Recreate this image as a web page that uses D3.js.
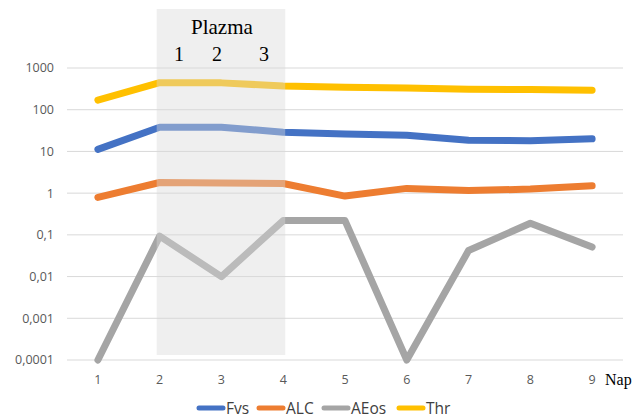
<!DOCTYPE html>
<html><head><meta charset="utf-8">
<script src="https://cdn.jsdelivr.net/npm/d3@7"></script>
<style>body{margin:0;background:#fff}</style>
</head><body>
<svg id="c" width="638" height="418"></svg>
<script>
const days = ["1","2","3","4","5","6","7","8","9"];
const yTicks = [0.0001,0.001,0.01,0.1,1,10,100,1000];
const yTickLabels = ["0,0001","0,001","0,01","0,1","1","10","100","1000"];
const fvs  = [11.2, 38, 38, 29, 26, 24.5, 18.6, 18, 20];
const alc  = [0.79, 1.8, 1.75, 1.7, 0.85, 1.3, 1.15, 1.25, 1.5];
const aeos = [0.0001, 0.093, 0.01, 0.22, 0.22, 0.0001, 0.042, 0.19, 0.051];
const thr  = [170, 445, 440, 370, 345, 330, 308, 305, 292];
const seriesNames = ["Fvs","ALC","AEos","Thr"];
const seriesColors = ["#4472c4","#ed7d31","#a5a5a5","#ffc000"];
const plasmaDays = ["2","4"];
const plasmaLabels = [["1",179],["2",217],["3",264]];

const svg = d3.select("#c");
const L = 67, R = 623, T = 68, B = 360;
const x = d3.scaleBand().domain(days).range([L, R]);
const y = d3.scaleLog().domain([0.0001, 1000]).range([B, T]);

svg.append("g").selectAll("line").data(yTicks).join("line")
  .attr("x1", L).attr("x2", R)
  .attr("y1", d => y(d)).attr("y2", d => y(d))
  .attr("stroke", "#d9d9d9").attr("stroke-width", 1);

svg.append("g").selectAll("text").data(yTicks).join("text")
  .attr("x", 54).attr("y", d => y(d)).attr("dy", "0.35em")
  .attr("text-anchor", "end")
  .attr("font-family", "Open Sans, sans-serif").attr("font-size", 12.5)
  .attr("fill", "#595959")
  .text((d,i) => yTickLabels[i]);

svg.append("g").selectAll("text").data(days).join("text")
  .attr("x", d => x(d) + x.bandwidth()/2).attr("y", 384)
  .attr("text-anchor", "middle")
  .attr("font-family", "Open Sans, sans-serif").attr("font-size", 12.5)
  .attr("fill", "#595959")
  .text(d => d);

svg.append("text").attr("x", 605).attr("y", 385)
  .attr("font-family", "Liberation Serif, serif").attr("font-size", 16)
  .attr("fill", "#000").text("Nap");

const all = [fvs, alc, aeos, thr];
const line = d3.line().x((d,i) => x(days[i]) + x.bandwidth()/2).y(d => y(d));
svg.append("g").selectAll("path").data(all).join("path")
  .attr("d", d => line(d))
  .attr("fill", "none")
  .attr("stroke", (d,i) => seriesColors[i])
  .attr("stroke-width", 7)
  .attr("stroke-linecap", "round")
  .attr("stroke-linejoin", "round");

const px1 = x(plasmaDays[0]) + x.bandwidth()/2 - 3;
const px2 = x(plasmaDays[1]) + x.bandwidth()/2 + 2;
svg.append("rect").attr("x", px1).attr("y", 9)
  .attr("width", px2 - px1).attr("height", 346)
  .attr("fill", "#d9d9d9").attr("fill-opacity", 0.42);

svg.append("text").attr("x", (px1+px2)/2 + 1).attr("y", 34)
  .attr("text-anchor", "middle")
  .attr("font-family", "Liberation Serif, serif").attr("font-size", 21)
  .attr("fill", "#000").text("Plazma");
svg.append("g").selectAll("text").data(plasmaLabels).join("text")
  .attr("x", d => d[1]).attr("y", 61)
  .attr("text-anchor", "middle")
  .attr("font-family", "Liberation Serif, serif").attr("font-size", 20)
  .attr("fill", "#000").text(d => d[0]);

const legX = [197, 257, 322, 397];
const lg = svg.append("g").selectAll("g").data(seriesNames).join("g")
  .attr("transform", (d,i) => `translate(${legX[i]},408)`);
lg.append("line").attr("x1", 2).attr("x2", 26).attr("y1", 0).attr("y2", 0)
  .attr("stroke", (d,i) => seriesColors[i]).attr("stroke-width", 5)
  .attr("stroke-linecap", "round");
lg.append("text").attr("x", 29).attr("y", 0).attr("dy", "0.36em")
  .attr("font-family", "Open Sans, sans-serif").attr("font-size", 15.5)
  .attr("fill", "#404040").text(d => d);
</script>
</body></html>
